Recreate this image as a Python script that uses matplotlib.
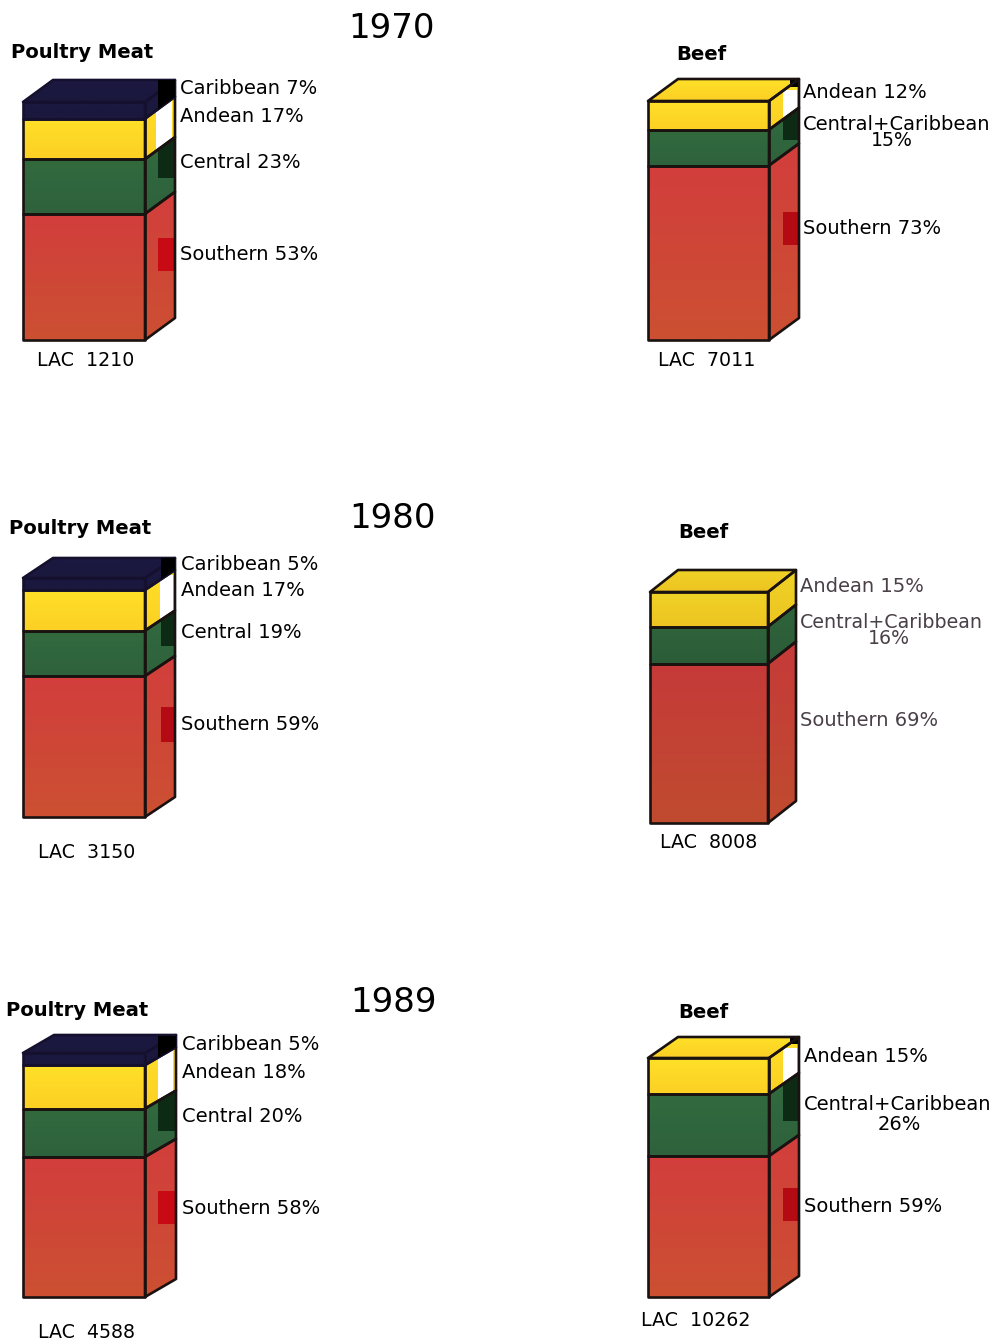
##
## Poultry meat and beef production by region, 1970/1980/1989
import numpy as np
import matplotlib
matplotlib.use('Agg')
import matplotlib.pyplot as plt
from matplotlib.patches import Polygon

##############################################################################
## data
years = ['1970', '1980', '1989']
poultry_regions = ['Southern', 'Central', 'Andean', 'Caribbean']
beef_regions = ['Southern', 'Central+Caribbean', 'Andean']

poultry_1970 = [53, 23, 17, 7]
poultry_1980 = [59, 19, 17, 5]
poultry_1989 = [58, 20, 18, 5]
beef_1970 = [73, 15, 12]
beef_1980 = [69, 16, 15]
beef_1989 = [59, 26, 15]

lac_poultry = [1210, 3150, 4588]
lac_beef = [7011, 8008, 10262]

##############################################################################
## colours: (top of gradient, bottom of gradient)
red = ((210, 62, 60), (204, 80, 50))
green = ((50, 106, 62), (46, 98, 60))
yellow = ((255, 224, 40), (252, 208, 36))
navy = ((28, 24, 66), (26, 24, 60))
poultry_cols = [red, green, yellow, navy]
beef_cols = [red, green, yellow]
line_col = '#1a1210'

W, H = 995, 1342
fig = plt.figure(figsize=(W/100., H/100.), dpi=100)
ax = fig.add_axes([0, 0, 1, 1])

##---------------------------------------------------------------------------
def clip_to(artist, poly):
    artist.set_clip_path(Polygon(poly, closed=True, transform=ax.transData))

def face(poly, c1, c2, factor=1.0, edge=line_col):
    # vertical gradient clipped to a face of the box
    pts = np.array(poly)
    g = np.linspace(0, 1, 32)[:, None, None]
    img = (np.array(c1)[None, None, :]*(1-g) + np.array(c2)[None, None, :]*g)*factor/255.
    im = ax.imshow(np.clip(img, 0, 1), extent=[pts[:, 0].min(), pts[:, 0].max(), pts[:, 1].max(), pts[:, 1].min()],
                   aspect='auto', zorder=2, interpolation='bilinear')
    clip_to(im, poly)
    ax.add_patch(Polygon(poly, closed=True, fc='none', ec=edge, lw=1.9, zorder=4, joinstyle='round'))

def box(x0, x1, bottom, top, dx, dy, shares, cols, darken=1.0):
    # stack the shares from the bottom of the front face up, returns the side faces
    scale = (bottom-top)/float(sum(shares))
    y = bottom
    sides = []
    for s, c in zip(shares, cols):
        y2 = y - s*scale
        edge = '#14102e' if c is navy else line_col
        side = [(x1, y), (x1+dx, y+dy), (x1+dx, y2+dy), (x1, y2)]
        face([(x0, y), (x1, y), (x1, y2), (x0, y2)], c[0], c[1], darken, edge)
        face(side, c[0], c[1], darken, edge)
        sides.append(side)
        y = y2
    c = cols[-1]
    edge = '#14102e' if c is navy else line_col
    face([(x0, top), (x1, top), (x1+dx, top+dy), (x0+dx, top+dy)], c[0], c[1], darken, edge)
    # top segment's side with the top face, for the chip that runs over the corner
    last = sides[-1]
    sides.append([last[0], last[1], (x1+dx, top+dy), (x0+dx, top+dy), (x0, top), (x1, top)])
    return sides

def chip(poly, x0, x1, y0, y1, col, z=3):
    for p in ax.fill([x0, x1, x1, x0], [y0, y0, y1, y1], color=col, lw=0, zorder=z):
        clip_to(p, poly)

def label(x, y, txt, **kw):
    kw.setdefault('fontsize', 14)
    ax.text(x, y, txt, ha='left', va='center', color=kw.pop('color', 'black'), zorder=6, **kw)

##---------------------------------------------------------------------------
## left column
p70 = box(23, 145, 340, 102, 30, -22, poultry_1970, poultry_cols)
p80 = box(23, 145, 817, 578, 30, -20, poultry_1980, poultry_cols)
p89 = box(23, 145, 1297, 1053, 31, -18, poultry_1989, poultry_cols)
## right column
b70 = box(648, 769, 340, 101, 30, -22, beef_1970, beef_cols)
b80 = box(650, 768, 823, 592, 28, -22, beef_1980, beef_cols, darken=0.94)
b89 = box(648, 769, 1297, 1058, 30, -21, beef_1989, beef_cols)

## legend chips on the side of the boxes
dark_green = '#0c2a14'
chip(p70[4], 158, 175, 79, 125, 'black', z=5)
chip(p70[2], 156, 172, 95, 150, 'white')
chip(p70[1], 158, 175, 130, 178, dark_green)
chip(p70[0], 158, 175, 238, 271, '#c80a14')
chip(p80[4], 161, 175, 558, 600, 'black', z=5)
chip(p80[2], 160, 173, 575, 625, 'white')
chip(p80[1], 161, 175, 605, 646, dark_green)
chip(p80[0], 161, 175, 707, 742, '#b40a14')
chip(p89[4], 158, 176, 1036, 1072, 'black', z=5)
chip(p89[2], 158, 173, 1050, 1110, 'white')
chip(p89[1], 158, 176, 1085, 1131, dark_green)
chip(p89[0], 158, 176, 1191, 1224, '#c80a14')
chip(b70[3], 790, 799, 79, 87, 'black')
chip(b70[2], 783, 797, 90, 125, 'white')
chip(b70[1], 783, 799, 100, 140, dark_green)
chip(b70[0], 783, 799, 212, 245, '#b40a14')
chip(b89[3], 790, 799, 1037, 1044, 'black')
chip(b89[2], 783, 797, 1048, 1090, 'white')
chip(b89[1], 783, 799, 1060, 1121, dark_green)
chip(b89[0], 783, 799, 1188, 1221, '#b40a14')

##---------------------------------------------------------------------------
## text
for yr, x, y in zip(years, [348, 349, 350], [28, 518, 1003]):
    ax.text(x, y, yr, fontsize=24.5, ha='left', va='center', color='black')
for x, y in zip([11, 9, 6], [53, 528, 1011]):
    label(x, y, 'Poultry Meat', fontsize=14.1, fontweight='bold')
for x, y in zip([676, 678, 678], [54, 533, 1013]):
    label(x, y, 'Beef', fontsize=14.1, fontweight='bold')
for n, x, y in zip(lac_poultry, [37, 38, 38], [360, 852, 1332]):
    label(x, y, 'LAC  %d' % n, fontsize=13.7)
for n, x, y in zip(lac_beef, [658, 660, 641], [360, 843, 1321]):
    label(x, y, 'LAC  %d' % n, fontsize=13.7)

def region_labels(x, ys, regions, shares):
    for r, s, y in zip(regions, shares, ys):
        label(x, y, '%s %d%%' % (r, s))

region_labels(180, [254, 163, 117, 88], poultry_regions, poultry_1970)
region_labels(181, [725, 632, 590, 564], poultry_regions, poultry_1980)
region_labels(182, [1208, 1116, 1072, 1044], poultry_regions, poultry_1989)

## beef labels break the middle one over two lines
grey = '#4a4048'
label(803, 229, '%s %d%%' % (beef_regions[0], beef_1970[0]))
label(803, 124, beef_regions[1])
label(871, 141, '%d%%' % beef_1970[1], fontsize=13.6)
label(803, 93, '%s %d%%' % (beef_regions[2], beef_1970[2]))
label(800, 721, '%s %d%%' % (beef_regions[0], beef_1980[0]), color=grey)
label(800, 622, beef_regions[1], color=grey, fontsize=13.7)
label(868, 639, '%d%%' % beef_1980[1], color=grey, fontsize=13.6)
label(800, 586, '%s %d%%' % (beef_regions[2], beef_1980[2]), color=grey)
label(804, 1206, '%s %d%%' % (beef_regions[0], beef_1989[0]))
label(804, 1104, beef_regions[1])
label(878, 1125, '%d%%' % beef_1989[1])
label(804, 1056, '%s %d%%' % (beef_regions[2], beef_1989[2]))

ax.set_xlim(0, W)
ax.set_ylim(H, 0)
ax.axis('off')
fig.savefig('out.png', dpi=100, facecolor='white')
